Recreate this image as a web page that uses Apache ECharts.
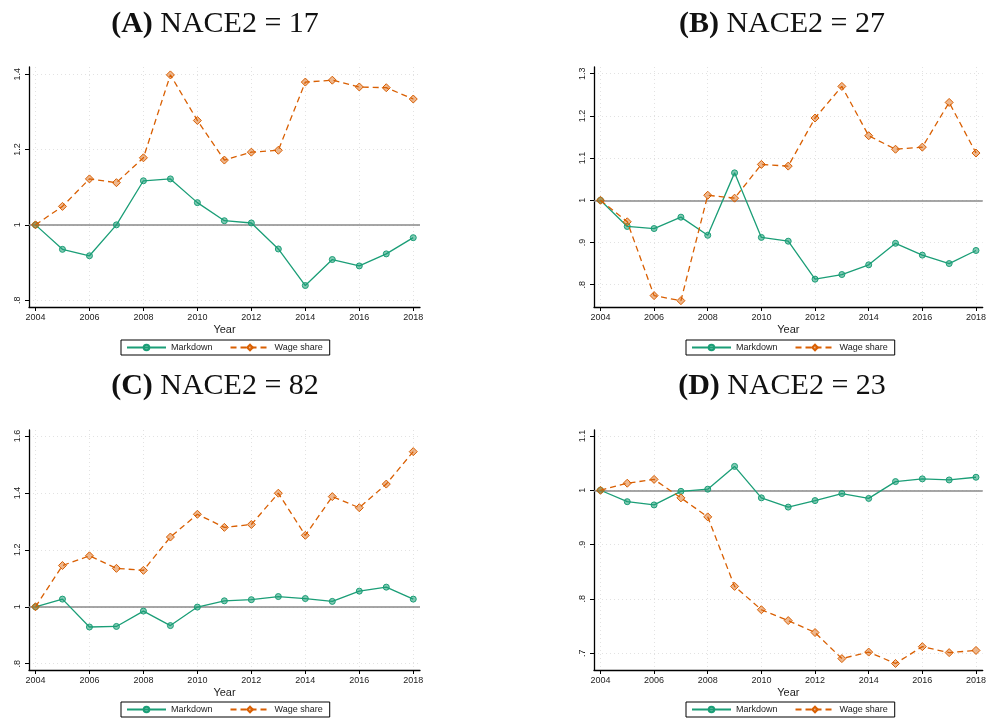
<!DOCTYPE html>
<html>
<head>
<meta charset="utf-8">
<script src="https://cdn.jsdelivr.net/npm/echarts@6/dist/echarts.min.js"></script>
<style>
  html, body { margin: 0; padding: 0; background: #fff; }
  #chart { width: 989px; height: 718px; }
</style>
</head>
<body>
<div id="chart"></div>
<script>
// Years on the horizontal axis
const years = [2004, 2005, 2006, 2007, 2008, 2009, 2010, 2011, 2012, 2013, 2014, 2015, 2016, 2017, 2018];
const xTicks = [2004, 2006, 2008, 2010, 2012, 2014, 2016, 2018];

// Panel titles
const panelLetters = ['(A)', '(B)', '(C)', '(D)'];
const panelCodes = ['17', '27', '82', '23'];

// Indexed series (2004 = 1)
const markdownA = [1.000, 0.935, 0.918, 1.000, 1.117, 1.122, 1.059, 1.011, 1.005, 0.936, 0.839, 0.908, 0.891, 0.923, 0.966];
const wageA     = [1.000, 1.049, 1.122, 1.112, 1.178, 1.398, 1.277, 1.172, 1.193, 1.198, 1.379, 1.384, 1.366, 1.364, 1.334];
const markdownB = [1.000, 0.938, 0.933, 0.960, 0.917, 1.065, 0.912, 0.903, 0.813, 0.824, 0.847, 0.898, 0.870, 0.850, 0.881];
const wageB     = [1.000, 0.949, 0.774, 0.762, 1.012, 1.005, 1.085, 1.081, 1.195, 1.270, 1.153, 1.121, 1.126, 1.232, 1.112];
const markdownC = [1.000, 1.027, 0.929, 0.931, 0.985, 0.934, 0.999, 1.021, 1.025, 1.036, 1.029, 1.019, 1.055, 1.069, 1.027];
const wageC     = [1.000, 1.145, 1.179, 1.135, 1.128, 1.245, 1.325, 1.279, 1.289, 1.399, 1.251, 1.387, 1.348, 1.431, 1.545];
const markdownD = [1.000, 0.979, 0.973, 0.998, 1.002, 1.044, 0.986, 0.969, 0.981, 0.994, 0.985, 1.016, 1.021, 1.019, 1.024];
const wageD     = [1.000, 1.013, 1.020, 0.986, 0.951, 0.823, 0.780, 0.760, 0.738, 0.690, 0.702, 0.681, 0.712, 0.701, 0.705];

// Y-axis tick values per panel
const yTicksA = [0.8, 1.0, 1.2, 1.4];
const yTicksB = [0.8, 0.9, 1.0, 1.1, 1.2, 1.3];
const yTicksC = [0.8, 1.0, 1.2, 1.4, 1.6];
const yTicksD = [0.7, 0.8, 0.9, 1.0, 1.1];

// Y-axis extents per panel
const yRangeA = [0.782, 1.419];
const yRangeB = [0.747, 1.316];
const yRangeC = [0.778, 1.621];
const yRangeD = [0.669, 1.111];

const GREEN = '#1b9e77';
const ORANGE = '#d95f02';
const TICK_FONT = 'Liberation Sans, Arial, sans-serif';

const panels = [
  { md: markdownA, ws: wageA, ticks: yTicksA, range: yRangeA, left: 29,  top: 67,  titleX: 215, titleY: 9,   legendTop: 340 },
  { md: markdownB, ws: wageB, ticks: yTicksB, range: yRangeB, left: 594, top: 67,  titleX: 782, titleY: 9,   legendTop: 340 },
  { md: markdownC, ws: wageC, ticks: yTicksC, range: yRangeC, left: 29,  top: 430, titleX: 215, titleY: 371, legendTop: 702 },
  { md: markdownD, ws: wageD, ticks: yTicksD, range: yRangeD, left: 594, top: 430, titleX: 782, titleY: 371, legendTop: 702 }
];
const plotW = 391, plotH = 240;

function fmtY(v) {
  let s = String(Math.round(v * 10) / 10);
  if (s.startsWith('0.')) s = s.slice(1);
  return s;
}

const toPairs = arr => years.map((y, i) => [y, arr[i]]);

const option = {
  backgroundColor: '#fff',
  animation: false,
  title: [], legend: [], grid: [], xAxis: [], yAxis: [], series: []
};

panels.forEach((p, i) => {
  option.title.push({
    text: '{b|' + panelLetters[i] + '} NACE2 = ' + panelCodes[i],
    left: p.titleX, top: p.titleY, textAlign: 'center', padding: 0,
    textStyle: {
      fontFamily: 'Liberation Serif, Times New Roman, serif', fontSize: 30,
      fontWeight: 'normal', color: '#111',
      rich: { b: { fontFamily: 'Liberation Serif, Times New Roman, serif', fontSize: 30, fontWeight: 'bold', color: '#111' } }
    }
  });
  option.grid.push({ left: p.left, top: p.top, width: plotW, height: plotH });
  option.xAxis.push({
    type: 'value', gridIndex: i, min: 2003.76, max: 2018.25,
    name: 'Year', nameLocation: 'middle', nameGap: 17,
    nameTextStyle: { fontFamily: TICK_FONT, fontSize: 11, color: '#222' },
    axisLine: { onZero: false, lineStyle: { color: '#000', width: 1.3 } },
    axisTick: { customValues: xTicks, length: 4, lineStyle: { color: '#000' } },
    axisLabel: { customValues: xTicks, fontFamily: TICK_FONT, fontSize: 9, color: '#222', margin: 6, formatter: v => String(v) },
    splitLine: { show: true, lineStyle: { color: '#e2e2e2', type: [1, 3], width: 1 } }
  });
  option.yAxis.push({
    type: 'value', gridIndex: i, min: p.range[0], max: p.range[1],
    axisLine: { show: true, onZero: false, lineStyle: { color: '#000', width: 1.3 } },
    axisTick: { show: true, customValues: p.ticks, length: 4, lineStyle: { color: '#000' } },
    axisLabel: { customValues: p.ticks, rotate: 90, fontFamily: TICK_FONT, fontSize: 9, color: '#222', margin: 7, formatter: fmtY },
    splitLine: { show: true, lineStyle: { color: '#e2e2e2', type: [1, 3], width: 1 } }
  });
  option.legend.push({
    left: p.left + 92, top: p.legendTop, orient: 'horizontal',
    itemWidth: 39, itemHeight: 7, itemGap: 17, padding: [3, 7, 3, 5],
    borderColor: '#000', borderWidth: 1, borderRadius: 0,
    textStyle: { fontFamily: TICK_FONT, fontSize: 9, color: '#222' },
    data: ['Markdown', 'Wage share']
  });
  option.series.push({
    name: 'Markdown', type: 'line', xAxisIndex: i, yAxisIndex: i,
    data: toPairs(p.md), z: 3,
    symbol: 'circle', symbolSize: 6,
    lineStyle: { color: GREEN, width: 1.3 },
    itemStyle: { color: 'rgba(27,158,119,0.55)', borderColor: GREEN, borderWidth: 1 },
    markLine: {
      silent: true, symbol: 'none', label: { show: false }, z: 1,
      lineStyle: { color: '#888', width: 1.5, type: 'solid' },
      data: [{ yAxis: 1 }]
    }
  });
  option.series.push({
    name: 'Wage share', type: 'line', xAxisIndex: i, yAxisIndex: i,
    data: toPairs(p.ws), z: 4,
    symbol: 'diamond', symbolSize: 8,
    lineStyle: { color: ORANGE, width: 1.3, type: [6, 4] },
    itemStyle: { color: 'rgba(217,95,2,0.45)', borderColor: ORANGE, borderWidth: 1 }
  });
});

const chart = echarts.init(document.getElementById('chart'), null, { renderer: 'canvas' });
chart.setOption(option);
</script>
</body>
</html>
